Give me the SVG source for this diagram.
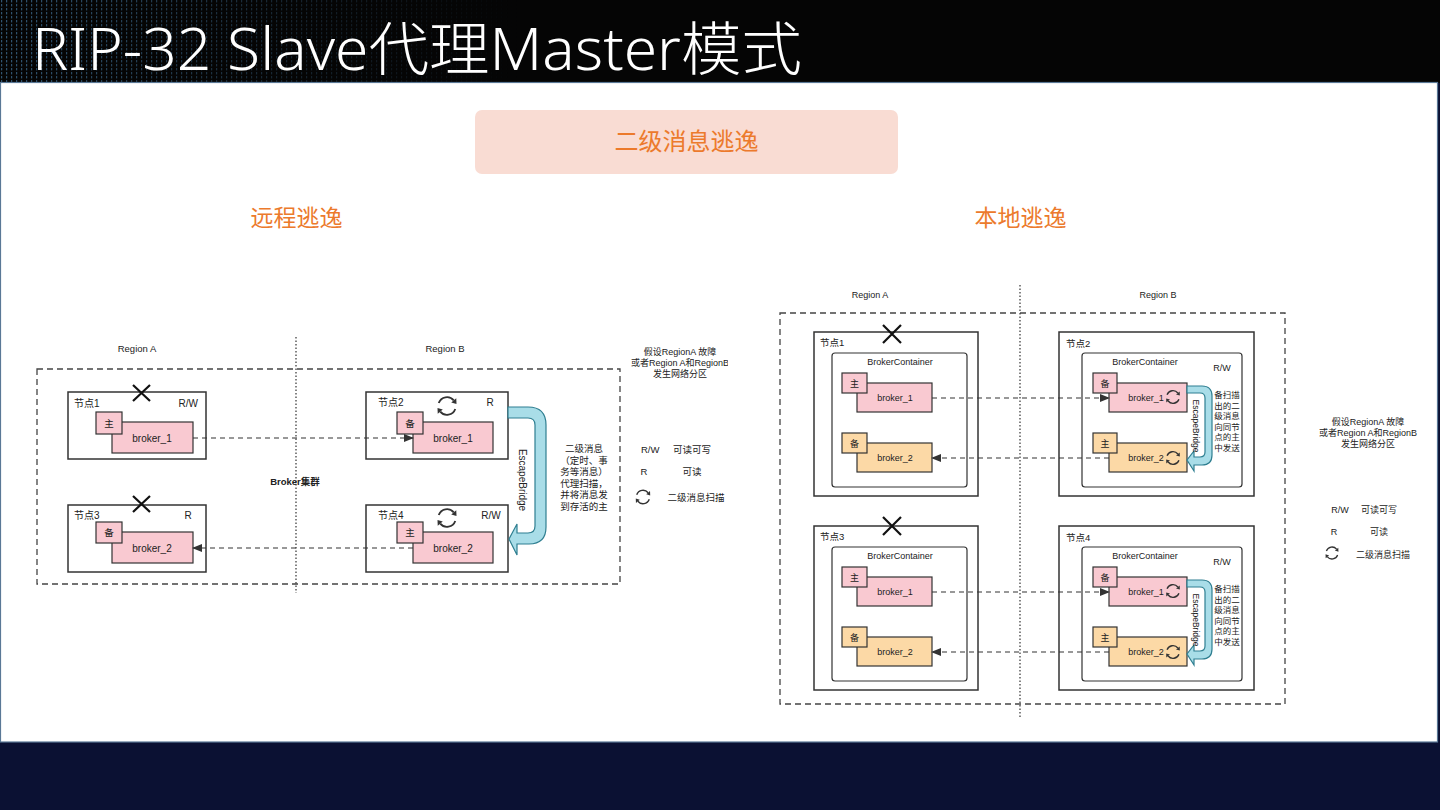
<svg xmlns="http://www.w3.org/2000/svg" width="1440" height="810" viewBox="0 0 1440 810">
<style>
.t{font-family:"Liberation Sans","Noto Sans CJK SC",sans-serif;fill:#222}
.c{text-anchor:middle}
.nb{fill:#fff;stroke:#333;stroke-width:1.5}
.bc{fill:#fff;stroke:#333;stroke-width:1.2}
.pk{fill:#f9c9d1;stroke:#333;stroke-width:1.2}
.og{fill:#fcd9a6;stroke:#333;stroke-width:1.2}
.od{fill:none;stroke:#444;stroke-width:1.3;stroke-dasharray:6 4}
.dot{fill:none;stroke:#333;stroke-width:1.2;stroke-dasharray:1.5 2}
.cn{fill:none;stroke:#333;stroke-width:1.1;stroke-dasharray:5 4}
.xm{stroke:#111;stroke-width:2.2;fill:none}
.br{fill:#a9dde8;stroke:#2f7f91;stroke-width:1.2}
.or{font-family:"Noto Sans CJK SC","Liberation Sans",sans-serif;fill:#ec7a2c;text-anchor:middle}
.rfa{fill:none;stroke:#333;stroke-width:1.5}
</style>
<defs>
<marker id="ah" markerWidth="10" markerHeight="8" refX="9" refY="4" orient="auto" markerUnits="userSpaceOnUse">
<path d="M0,0 L10,4 L0,8 Z" fill="#333"/>
</marker>
<g id="rf">
<path class="rfa" d="M-6.6,-2.4 A7,7 0 0 1 5.4,-4.5"/>
<polygon points="7.6,-1.6 7.4,-6.2 3.4,-2.8" fill="#333"/>
<path class="rfa" d="M6.6,2.4 A7,7 0 0 1 -5.4,4.5"/>
<polygon points="-7.6,1.6 -7.4,6.2 -3.4,2.8" fill="#333"/>
</g>
<clipPath id="clipL"><rect x="600" y="340" width="128" height="50"/></clipPath>
<pattern id="dots" width="5" height="4" patternUnits="userSpaceOnUse">
<rect x="1" y="0" width="1.2" height="2.4" fill="#3f6f96"/>
</pattern>
<linearGradient id="fadeG" x1="0" y1="0" x2="1" y2="0">
<stop offset="0" stop-color="#fff" stop-opacity="0.75"/>
<stop offset="0.55" stop-color="#fff" stop-opacity="0.3"/>
<stop offset="1" stop-color="#fff" stop-opacity="0"/>
</linearGradient>
<mask id="fadeM"><rect x="0" y="0" width="520" height="82" fill="url(#fadeG)"/></mask>
</defs>

<!-- background -->
<rect x="0" y="0" width="1440" height="810" fill="#0b1133"/>
<rect x="0" y="0" width="1440" height="83" fill="#050505"/>
<rect x="0" y="0" width="520" height="82" fill="url(#dots)" mask="url(#fadeM)"/>
<rect x="0.5" y="82.5" width="1437" height="659.5" fill="#ffffff" stroke="#5a7896" stroke-width="1.2"/>
<text x="32" y="70" font-family="'Noto Sans','Noto Sans CJK SC',sans-serif" font-size="58" font-weight="300" fill="#ffffff" textLength="770" lengthAdjust="spacingAndGlyphs">RIP-32 Slave代理Master模式</text>

<!-- headings -->
<g id="heading">
<rect x="475" y="110" width="423" height="64" rx="7" fill="#f9dcd3"/>
<text class="or" x="686.5" y="150" font-size="24">二级消息逃逸</text>
</g>
<text class="or" x="296.5" y="226" font-size="23">远程逃逸</text>
<text class="or" x="1020.5" y="226" font-size="23">本地逃逸</text>

<!-- ============ LEFT DIAGRAM ============ -->
<g id="left-frame">
<rect class="od" x="37" y="369" width="583" height="215"/>
<line class="dot" x1="296" y1="337" x2="296" y2="593"/>
<text class="t c" x="137" y="352" font-size="9.5">Region A</text>
<text class="t c" x="445" y="352" font-size="9.5">Region B</text>
<text class="t c" x="295" y="485" font-size="9.5" font-weight="bold" fill="#444">Broker集群</text>
</g>

<g id="L-node1">
<rect class="nb" x="68" y="392" width="138" height="67"/>
<text class="t" x="74" y="407" font-size="10">节点1</text>
<text class="t" x="198" y="407" font-size="10" text-anchor="end">R/W</text>
<path class="xm" d="M133,385 L150,401 M150,385 L133,401"/>
<rect class="pk" x="112" y="422" width="81" height="31"/>
<rect class="pk" x="96" y="412" width="26" height="22"/>
<text class="t c" x="109" y="427" font-size="9.5">主</text>
<text class="t c" x="152" y="442" font-size="10">broker_1</text>
</g>

<g id="L-node3">
<rect class="nb" x="68" y="505" width="138" height="67"/>
<text class="t" x="74" y="519" font-size="10">节点3</text>
<text class="t" x="188" y="519" font-size="10" text-anchor="middle">R</text>
<path class="xm" d="M133,496 L150,512 M150,496 L133,512"/>
<rect class="pk" x="112" y="532" width="81" height="31"/>
<rect class="pk" x="96" y="522" width="26" height="21"/>
<text class="t c" x="109" y="536" font-size="9.5">备</text>
<text class="t c" x="152" y="552" font-size="10">broker_2</text>
</g>

<g id="L-node2">
<rect class="nb" x="366" y="392" width="142" height="67"/>
<text class="t" x="378" y="406" font-size="10">节点2</text>
<text class="t c" x="490" y="406" font-size="10">R</text>
<use href="#rf" transform="translate(447,406) scale(1.25)"/>
<rect class="pk" x="413" y="422" width="80" height="31"/>
<rect class="pk" x="397" y="412" width="26" height="22"/>
<text class="t c" x="410" y="427" font-size="9.5">备</text>
<text class="t c" x="453" y="442" font-size="10">broker_1</text>
</g>

<g id="L-node4">
<rect class="nb" x="366" y="505" width="142" height="67"/>
<text class="t" x="378" y="519" font-size="10">节点4</text>
<text class="t c" x="491" y="519" font-size="10">R/W</text>
<use href="#rf" transform="translate(447,518) scale(1.25)"/>
<rect class="pk" x="413" y="532" width="80" height="31"/>
<rect class="pk" x="397" y="522" width="26" height="21"/>
<text class="t c" x="410" y="536" font-size="9.5">主</text>
<text class="t c" x="453" y="552" font-size="10">broker_2</text>
</g>

<g id="L-bridge">
<path class="br" d="M508,407 L528,407 Q546,407 546,425 L546,527 Q546,544 529,544 L517,544 L517,555 L509,539 L517,524 L517,533 L528,533 Q535,533 535,526 L535,425 Q535,418 528,418 L508,418 Z"/>
<text class="t c" transform="translate(522,480) rotate(90)" font-size="10" dominant-baseline="central">EscapeBridge</text>
</g>

<g id="L-notes">
<text class="t c" font-size="9.5"><tspan x="584" y="452">二级消息</tspan><tspan x="584" y="463.5">（定时、事</tspan><tspan x="584" y="475">务等消息）</tspan><tspan x="584" y="486.5">代理扫描，</tspan><tspan x="584" y="498">并将消息发</tspan><tspan x="584" y="509.5">到存活的主</tspan></text>
<g clip-path="url(#clipL)">
<text class="t c" font-size="9"><tspan x="680" y="355">假设RegionA 故障</tspan><tspan x="680" y="366">或者Region A和RegionB</tspan><tspan x="680" y="377">发生网络分区</tspan></text>
</g>
<text class="t" x="641" y="453" font-size="9.5">R/W</text>
<text class="t c" x="692" y="453" font-size="9.5">可读可写</text>
<text class="t c" x="644" y="475" font-size="9.5">R</text>
<text class="t c" x="692" y="475" font-size="9.5">可读</text>
<use href="#rf" transform="translate(643,497) scale(0.95)"/>
<text class="t c" x="696" y="501" font-size="9.5">二级消息扫描</text>
</g>

<!-- ============ RIGHT DIAGRAM ============ -->
<g id="right-frame">
<rect class="od" x="780" y="313" width="505" height="391"/>
<line class="dot" x1="1020" y1="285" x2="1020" y2="718"/>
<text class="t c" x="870" y="298" font-size="9">Region A</text>
<text class="t c" x="1158" y="298" font-size="9">Region B</text>
</g>

<g id="R-node1">
<rect class="nb" x="814" y="332" width="164" height="164"/>
<text class="t" x="820" y="346" font-size="9.5">节点1</text>
<path class="xm" d="M883,325 L901,343 M901,325 L883,343"/>
<rect class="bc" x="832" y="353" width="135" height="134" rx="3"/>
<text class="t c" x="900" y="365" font-size="9">BrokerContainer</text>
<rect class="pk" x="857" y="383" width="75" height="29"/>
<rect class="pk" x="842" y="373" width="25" height="20"/>
<text class="t c" x="854.5" y="386.5" font-size="9">主</text>
<text class="t c" x="895" y="401" font-size="9">broker_1</text>
<rect class="og" x="857" y="443" width="75" height="29"/>
<rect class="og" x="842" y="433" width="25" height="20"/>
<text class="t c" x="854.5" y="446.5" font-size="9">备</text>
<text class="t c" x="895" y="461" font-size="9">broker_2</text>
</g>

<g id="R-node3">
<rect class="nb" x="814" y="526" width="164" height="164"/>
<text class="t" x="820" y="540" font-size="9.5">节点3</text>
<path class="xm" d="M883,517 L901,535 M901,517 L883,535"/>
<rect class="bc" x="832" y="547" width="135" height="134" rx="3"/>
<text class="t c" x="900" y="559" font-size="9">BrokerContainer</text>
<rect class="pk" x="857" y="577" width="75" height="29"/>
<rect class="pk" x="842" y="567" width="25" height="20"/>
<text class="t c" x="854.5" y="580.5" font-size="9">主</text>
<text class="t c" x="895" y="595" font-size="9">broker_1</text>
<rect class="og" x="857" y="637" width="75" height="29"/>
<rect class="og" x="842" y="627" width="25" height="20"/>
<text class="t c" x="854.5" y="640.5" font-size="9">备</text>
<text class="t c" x="895" y="655" font-size="9">broker_2</text>
</g>

<g id="R-node2">
<rect class="nb" x="1059" y="332" width="195" height="164"/>
<text class="t" x="1066" y="347" font-size="9.5">节点2</text>
<rect class="bc" x="1082" y="353" width="160" height="134" rx="3"/>
<text class="t c" x="1145" y="365" font-size="9">BrokerContainer</text>
<text class="t c" x="1222" y="371" font-size="9">R/W</text>
<rect class="pk" x="1109" y="383" width="78" height="29"/>
<rect class="pk" x="1093" y="373" width="24" height="20"/>
<text class="t c" x="1105" y="386.5" font-size="9">备</text>
<text class="t c" x="1146" y="401" font-size="9">broker_1</text>
<use href="#rf" transform="translate(1173,397) scale(0.9)"/>
<rect class="og" x="1109" y="443" width="78" height="29"/>
<rect class="og" x="1093" y="433" width="24" height="20"/>
<text class="t c" x="1105" y="446.5" font-size="9">主</text>
<text class="t c" x="1146" y="461" font-size="9">broker_2</text>
<use href="#rf" transform="translate(1173,458) scale(0.9)"/>
<path class="br" d="M1187,386 L1202,386 Q1212,386 1212,396 L1212,455 Q1212,465 1202,465 L1194,465 L1194,471 L1187,460 L1194,451 L1194,457 L1200,457 Q1205,457 1205,452 L1205,398 Q1205,393 1200,393 L1187,393 Z"/>
<text class="t c" transform="translate(1196,426) rotate(90)" font-size="8.5" dominant-baseline="central">EscapeBridge</text>
<text class="t c" font-size="8.5"><tspan x="1227" y="398">备扫描</tspan><tspan x="1227" y="408.5">出的二</tspan><tspan x="1227" y="419">级消息</tspan><tspan x="1227" y="429.5">向同节</tspan><tspan x="1227" y="440">点的主</tspan><tspan x="1227" y="450.5">中发送</tspan></text>
</g>

<g id="R-node4">
<rect class="nb" x="1059" y="526" width="195" height="164"/>
<text class="t" x="1066" y="541" font-size="9.5">节点4</text>
<rect class="bc" x="1082" y="547" width="160" height="134" rx="3"/>
<text class="t c" x="1145" y="559" font-size="9">BrokerContainer</text>
<text class="t c" x="1222" y="565" font-size="9">R/W</text>
<rect class="pk" x="1109" y="577" width="78" height="29"/>
<rect class="pk" x="1093" y="567" width="24" height="20"/>
<text class="t c" x="1105" y="580.5" font-size="9">备</text>
<text class="t c" x="1146" y="595" font-size="9">broker_1</text>
<use href="#rf" transform="translate(1173,591) scale(0.9)"/>
<rect class="og" x="1109" y="637" width="78" height="29"/>
<rect class="og" x="1093" y="627" width="24" height="20"/>
<text class="t c" x="1105" y="640.5" font-size="9">主</text>
<text class="t c" x="1146" y="655" font-size="9">broker_2</text>
<use href="#rf" transform="translate(1173,652) scale(0.9)"/>
<path class="br" d="M1187,580 L1202,580 Q1212,580 1212,590 L1212,649 Q1212,659 1202,659 L1194,659 L1194,665 L1187,654 L1194,645 L1194,651 L1200,651 Q1205,651 1205,646 L1205,592 Q1205,587 1200,587 L1187,587 Z"/>
<text class="t c" transform="translate(1196,620) rotate(90)" font-size="8.5" dominant-baseline="central">EscapeBridge</text>
<text class="t c" font-size="8.5"><tspan x="1227" y="592">备扫描</tspan><tspan x="1227" y="602.5">出的二</tspan><tspan x="1227" y="613">级消息</tspan><tspan x="1227" y="623.5">向同节</tspan><tspan x="1227" y="634">点的主</tspan><tspan x="1227" y="644.5">中发送</tspan></text>
</g>

<g id="R-notes">
<text class="t c" font-size="9"><tspan x="1368" y="425">假设RegionA 故障</tspan><tspan x="1368" y="436">或者Region A和RegionB</tspan><tspan x="1368" y="447">发生网络分区</tspan></text>
<text class="t c" x="1340" y="513" font-size="9">R/W</text>
<text class="t c" x="1379" y="513" font-size="9">可读可写</text>
<text class="t c" x="1334" y="535" font-size="9">R</text>
<text class="t c" x="1379" y="535" font-size="9">可读</text>
<use href="#rf" transform="translate(1332,553) scale(0.85)"/>
<text class="t c" x="1383" y="558" font-size="9">二级消息扫描</text>
</g>

<!-- ============ CONNECTORS ============ -->
<g id="connectors">
<line class="cn" x1="193" y1="438" x2="413" y2="438" marker-end="url(#ah)"/>
<line class="cn" x1="413" y1="548" x2="193" y2="548" marker-end="url(#ah)"/>
<line class="cn" x1="932" y1="398" x2="1109" y2="398" marker-end="url(#ah)"/>
<line class="cn" x1="1109" y1="458" x2="932" y2="458" marker-end="url(#ah)"/>
<line class="cn" x1="932" y1="592" x2="1109" y2="592" marker-end="url(#ah)"/>
<line class="cn" x1="1109" y1="652" x2="932" y2="652" marker-end="url(#ah)"/>
</g>
</svg>
